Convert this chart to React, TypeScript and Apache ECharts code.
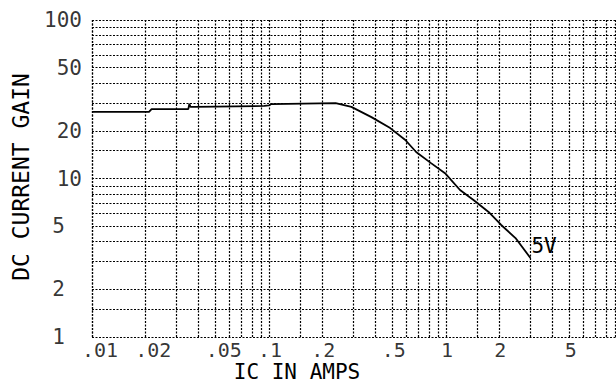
import React, { useEffect, useRef } from 'react';
import * as echarts from 'echarts';

const xGridValues = [0.01, 0.015, 0.02, 0.03, 0.04, 0.05, 0.06, 0.07, 0.08, 0.09, 0.1, 0.15, 0.2, 0.3, 0.4, 0.5, 0.6, 0.7, 0.8, 0.9, 1, 1.5, 2, 3, 4, 5, 6, 7, 8, 9, 10];
const yGridValues = [1, 1.5, 2, 3, 4, 5, 6, 7, 8, 9, 10, 15, 20, 30, 40, 50, 60, 70, 80, 90, 100];
const xTickValues = [0.01, 0.02, 0.05, 0.1, 0.2, 0.5, 1, 2, 5];
const xTickLabels = ['.01', '.02', '.05', '.1', '.2', '.5', '1', '2', '5'];
const yTickValues = [1, 2, 5, 10, 20, 50, 100];
const yTickLabels = ['1', '2', '5', '10', '20', '50', '100'];

// DC current gain curve (Vce = 5V)
const icAmps = [0.01, 0.021, 0.0217, 0.035, 0.0355, 0.036, 0.038, 0.094, 0.1, 0.103, 0.238, 0.292, 0.379, 0.484, 0.589, 0.678, 0.823, 0.987, 1.2, 1.43, 1.74, 2.05, 2.47, 3.0];
const hfe = [26.3, 26.3, 27.4, 27.4, 29.6, 28.3, 28.3, 28.7, 28.9, 29.5, 29.9, 28.3, 24.4, 20.8, 17.5, 14.7, 12.5, 10.8, 8.46, 7.32, 6.15, 5.09, 4.21, 3.15];
const curveLabel = '5V';
const xTitle = 'IC IN AMPS';
const yTitle = 'DC CURRENT GAIN';

const FONT = '"DejaVu Sans Mono", "Liberation Mono", monospace';

export default function App() {
  const ref = useRef<HTMLDivElement>(null);
  useEffect(() => {
    if (!ref.current) return;
    const chart = echarts.init(ref.current, null, { renderer: 'svg' });
    const gridLineStyle = { color: '#000', width: 1.2, type: [2, 1.5] as any, opacity: 1 };
    chart.setOption({
      animation: false,
      backgroundColor: '#fff',
      grid: { left: 92, top: 20, right: 630 - 623, bottom: 383 - 337, containLabel: false },
      xAxis: {
        type: 'log', logBase: 10, min: 0.01, max: 10,
        axisLine: { show: false }, axisTick: { show: false }, axisLabel: { show: false }, splitLine: { show: false },
      },
      yAxis: {
        type: 'log', logBase: 10, min: 1, max: 100,
        axisLine: { show: false }, axisTick: { show: false }, axisLabel: { show: false }, splitLine: { show: false },
      },
      graphic: [
        {
          type: 'text', x: 297, y: 372,
          style: { text: xTitle, fontFamily: FONT, fontSize: 21, lineHeight: 18, fill: '#000', align: 'center', verticalAlign: 'middle' },
        },
        {
          type: 'text', x: 21, y: 177, rotation: Math.PI / 2,
          style: { text: yTitle, fontFamily: FONT, fontSize: 23, lineHeight: 18, fill: '#000', align: 'center', verticalAlign: 'middle' },
        },
      ],
      series: [
        {
          type: 'scatter',
          name: 'xticks',
          silent: true,
          symbolSize: 0,
          itemStyle: { color: 'transparent' },
          data: xTickValues.map((v, i) => ({
            value: [v, 1],
            name: xTickLabels[i],
            label: { offset: [xTickLabels[i].length === 3 ? 8 : 1, 0] },
          })),
          label: { show: true, position: 'bottom', distance: 5, lineHeight: 15, formatter: '{b}', fontFamily: FONT, fontSize: 20, color: '#000' },
          markLine: {
            silent: true,
            symbol: ['none', 'none'],
            label: { show: false },
            emphasis: { disabled: true },
            lineStyle: gridLineStyle,
            data: [
              ...xGridValues.map((v) => ({ xAxis: v })),
              ...yGridValues.map((v) => ({ yAxis: v })),
            ],
          },
        },
        {
          type: 'scatter',
          name: 'yticks',
          silent: true,
          symbolSize: 0,
          itemStyle: { color: 'transparent' },
          data: yTickValues.map((v, i) => ({
            value: [0.01, v],
            name: yTickLabels[i],
            label: { padding: yTickLabels[i].length === 1 ? [0, 17, 0, 0] : 0 },
          })),
          label: { show: true, position: 'left', distance: 10, formatter: '{b}', fontFamily: FONT, fontSize: 21, color: '#000' },
        },
        {
          type: 'line',
          name: curveLabel,
          silent: true,
          symbol: 'none',
          data: icAmps.map((x, i) => [x, hfe[i]]),
          lineStyle: { color: '#000', width: 1.8 },
          endLabel: { show: true, formatter: curveLabel, fontFamily: FONT, fontSize: 21, color: '#000', distance: 1, offset: [0, -12] },
        },
      ],
    });
    return () => chart.dispose();
  }, []);
  return (
    <div style={{ position: 'fixed', left: 0, top: 0, width: 616, height: 383, overflow: 'hidden', background: '#fff' }}>
      <div ref={ref} style={{ width: 630, height: 383 }} />
    </div>
  );
}
